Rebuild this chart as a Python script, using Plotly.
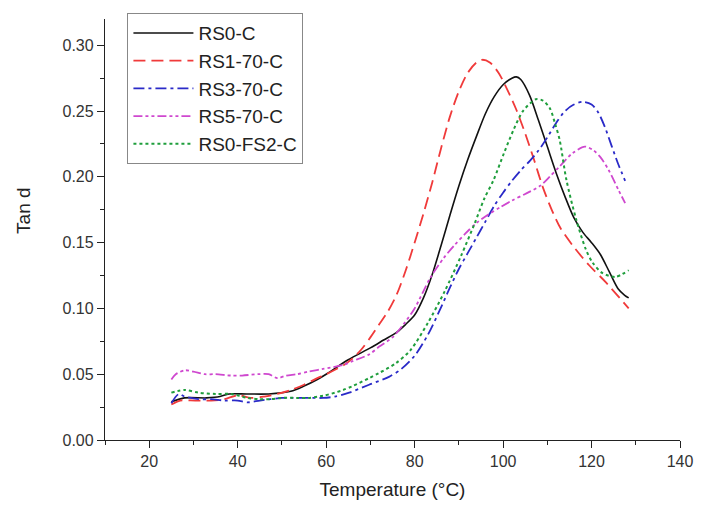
import plotly.graph_objects as go

# ---------------- data ----------------
names = ["RS0-C", "RS1-70-C", "RS3-70-C", "RS5-70-C", "RS0-FS2-C"]

t_rs0 = [25, 28, 33, 36, 38, 42, 47, 52, 55, 58, 60, 65, 70, 73, 76, 78, 80, 82, 84, 86, 88,
         90, 92, 94, 96, 98, 100, 102, 103, 104, 106, 108, 110, 112, 114, 116, 118, 120, 122,
         124, 126, 127.5, 128.4]
tan_rs0 = [0.029, 0.032, 0.032, 0.033, 0.035, 0.035, 0.035, 0.037, 0.041, 0.046, 0.050, 0.061,
           0.070, 0.076, 0.082, 0.088, 0.095, 0.108, 0.126, 0.148, 0.171, 0.193, 0.213, 0.231,
           0.248, 0.261, 0.270, 0.275, 0.276, 0.274, 0.262, 0.243, 0.223, 0.203, 0.185, 0.169,
           0.158, 0.150, 0.141, 0.128, 0.115, 0.110, 0.108]

t_rs1 = [25, 27, 30.4, 34, 37, 40, 43, 46, 49, 52, 55, 58, 60, 64, 66, 68, 70, 72, 74, 76, 78,
         80, 82, 84, 86, 88, 90, 92, 94, 95.3, 97, 99, 101, 103, 105, 107, 109, 111, 113, 115.7,
         119.4, 123.2, 128.4]
tan_rs1 = [0.027, 0.030, 0.030, 0.030, 0.031, 0.034, 0.032, 0.033, 0.035, 0.038, 0.042, 0.047,
           0.050, 0.057, 0.062, 0.069, 0.078, 0.088, 0.098, 0.111, 0.129, 0.150, 0.172, 0.196,
           0.222, 0.246, 0.265, 0.279, 0.287, 0.289, 0.287, 0.279, 0.266, 0.251, 0.233, 0.213,
           0.192, 0.175, 0.161, 0.148, 0.133, 0.120, 0.100]

t_rs3 = [25, 26.7, 28, 31.1, 34, 37, 40, 42.2, 45, 47.4, 50, 53.4, 56, 59.3, 62, 65.2, 69.7,
         74.2, 77, 80, 83, 86, 88, 90, 92, 94, 96, 98, 100, 102, 104, 106, 108, 110, 112, 114,
         116, 118, 120, 121.5, 123, 124.6, 126, 127.6]
tan_rs3 = [0.028, 0.035, 0.033, 0.031, 0.031, 0.030, 0.030, 0.0286, 0.030, 0.031, 0.032, 0.032,
           0.032, 0.032, 0.033, 0.036, 0.042, 0.048, 0.054, 0.064, 0.080, 0.101, 0.116, 0.130,
           0.142, 0.154, 0.166, 0.178, 0.188, 0.197, 0.205, 0.212, 0.220, 0.230, 0.241, 0.250,
           0.255, 0.257, 0.255, 0.249, 0.238, 0.223, 0.210, 0.197]

t_rs5 = [25, 26, 28.1, 30, 32.6, 35, 38.5, 41, 44.5, 47, 49, 51, 53.4, 56, 59.3, 63.8, 66,
         69.7, 72, 75, 77.5, 80, 83.5, 86.5, 89, 91.5, 94, 96.5, 99.4, 102, 105, 108.3, 110.5,
         112.8, 115.7, 118.5, 120.5, 122, 123.9, 126.1, 127.6]
tan_rs5 = [0.046, 0.050, 0.053, 0.052, 0.050, 0.050, 0.049, 0.049, 0.050, 0.050, 0.047, 0.049,
           0.050, 0.052, 0.054, 0.057, 0.060, 0.065, 0.071, 0.078, 0.088, 0.100, 0.123, 0.138,
           0.148, 0.157, 0.165, 0.171, 0.177, 0.182, 0.187, 0.193, 0.200, 0.208, 0.218, 0.223,
           0.220, 0.215, 0.205, 0.190, 0.180]

t_fs2 = [25, 28, 31.1, 35, 38.5, 42.2, 45, 47.4, 50, 53.4, 56, 59.3, 62, 63.8, 66, 69.7, 72,
         75.6, 79, 83, 86.8, 90.5, 93.5, 95.7, 97.9, 100.2, 102.4, 104.5, 107.4, 109, 110.6,
         111.8, 112.8, 114.3, 116.5, 118.7, 120.2, 122.4, 125.4, 128.4]
tan_fs2 = [0.036, 0.038, 0.036, 0.035, 0.035, 0.032, 0.031, 0.031, 0.032, 0.032, 0.032, 0.0336,
           0.036, 0.038, 0.041, 0.047, 0.051, 0.058, 0.068, 0.089, 0.113, 0.140, 0.164, 0.183,
           0.198, 0.218, 0.236, 0.250, 0.259, 0.258, 0.252, 0.240, 0.228, 0.198, 0.168, 0.145,
           0.135, 0.127, 0.124, 0.129]

xs = [t_rs0, t_rs1, t_rs3, t_rs5, t_fs2]
ys = [tan_rs0, tan_rs1, tan_rs3, tan_rs5, tan_fs2]

x_ticks = [20, 40, 60, 80, 100, 120, 140]
y_ticks = [0.00, 0.05, 0.10, 0.15, 0.20, 0.25, 0.30]
y_tick_text = ["0.00", "0.05", "0.10", "0.15", "0.20", "0.25", "0.30"]

# ---------------- styles ----------------
colors = ["#111111", "#f03a3a", "#2a2ac8", "#cf48cf", "#1f9e3c"]
dashes = ["solid", "12px,6px", "11px,4px,3px,4px", "9px,3px,3px,3px,3px,3px", "3px,3px"]
widths = [1.6, 1.8, 1.8, 1.8, 2.0]

FONT = "Liberation Sans, Arial, sans-serif"

fig = go.Figure()
for n, x, y, c, d, w in zip(names, xs, ys, colors, dashes, widths):
    fig.add_trace(go.Scatter(x=x, y=y, mode="lines", name=n,
                             line=dict(color=c, dash=d, width=w, shape="spline", smoothing=0.8)))

axis_common = dict(showline=True, linecolor="#222", linewidth=1.3, ticks="outside",
                   ticklen=7, tickwidth=1.3, tickcolor="#222", showgrid=False, zeroline=False,
                   mirror=False, tickfont=dict(family=FONT, size=16, color="#333"))

fig.update_xaxes(range=[10, 140], tickvals=x_ticks, **axis_common,
                 minor=dict(ticks="outside", ticklen=4, tickwidth=1.2, tickcolor="#222", dtick=10, tick0=0),
                 title=dict(text="Temperature (°C)", font=dict(family=FONT, size=19, color="#222"),
                            standoff=13))
fig.update_yaxes(range=[0, 0.32], tickvals=y_ticks, ticktext=y_tick_text, **axis_common,
                 minor=dict(ticks="outside", ticklen=4, tickwidth=1.2, tickcolor="#222", dtick=0.025, tick0=0))

fig.add_annotation(text="Tan d", textangle=-90, xref="paper", yref="paper",
                   x=-0.142, y=0.545, xanchor="center", yanchor="middle", showarrow=False,
                   font=dict(family=FONT, size=19, color="#222"))

fig.update_layout(
    width=705, height=509,
    margin=dict(l=105, r=16, t=19, b=66),
    paper_bgcolor="white", plot_bgcolor="white",
    showlegend=True,
    legend=dict(x=0.039, y=1.014, xanchor="left", yanchor="top",
                bordercolor="#888", borderwidth=1, bgcolor="white",
                font=dict(family=FONT, size=19, color="#222"),
                tracegroupgap=0, itemwidth=60),
)

fig.write_html("out.html")
